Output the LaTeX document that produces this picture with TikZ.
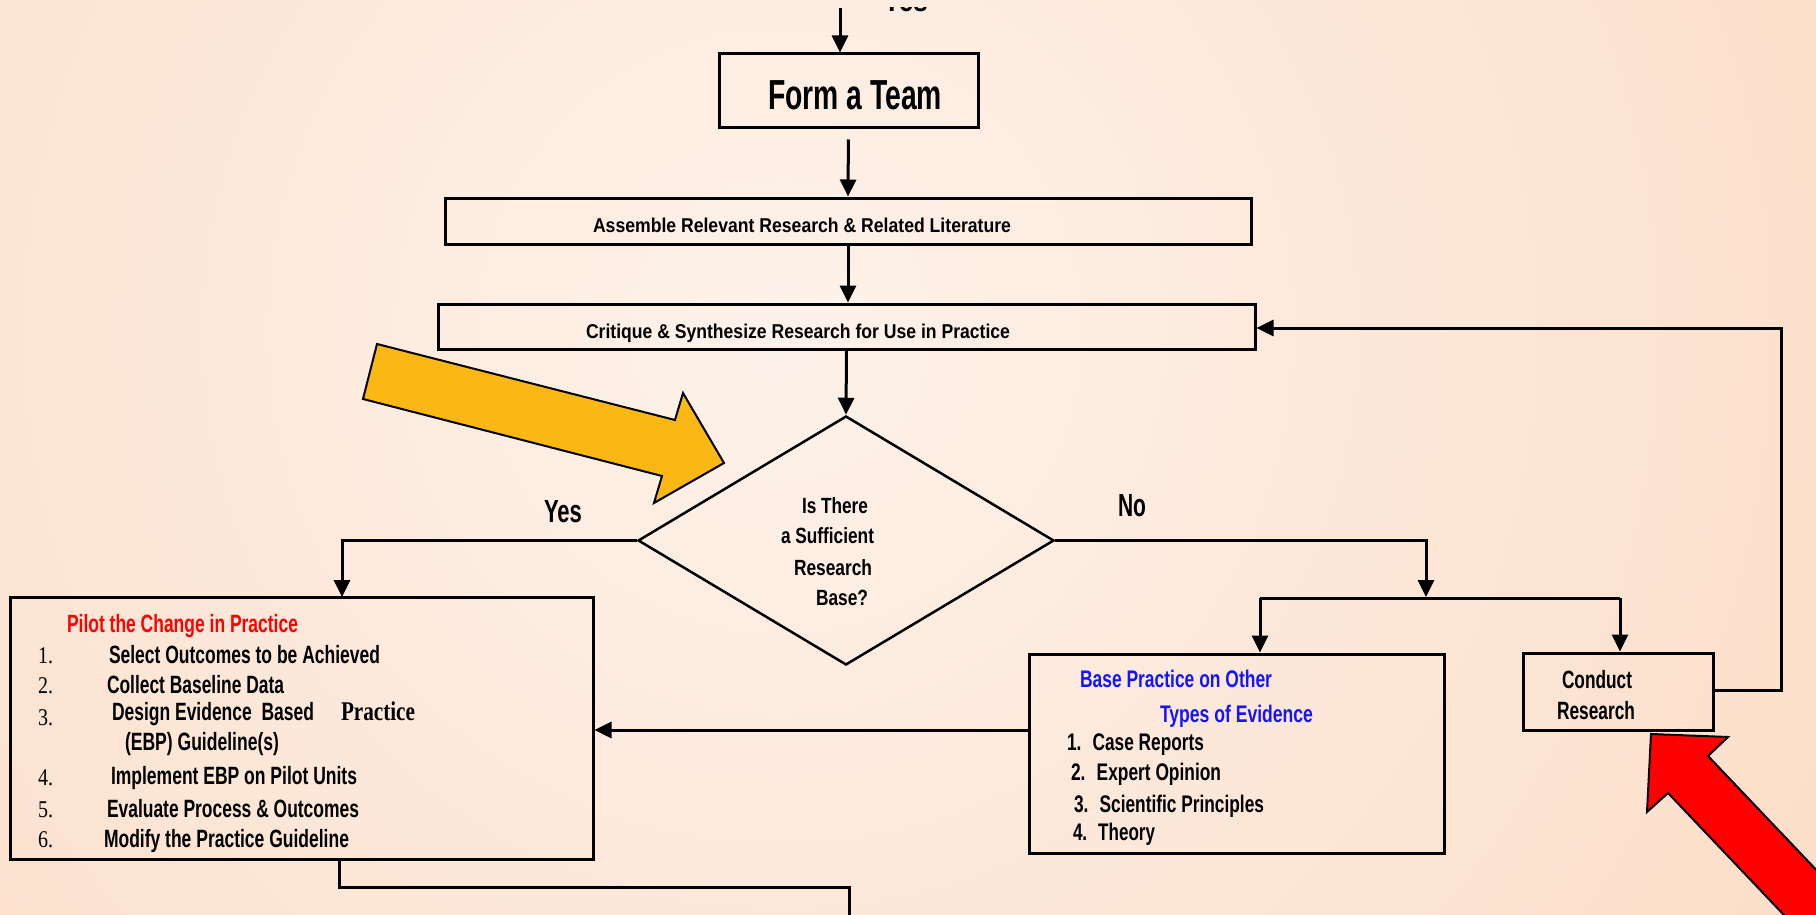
\documentclass[tikz,border=0pt]{standalone}
\usepackage{fontspec}
\usepackage{graphicx}
\setmainfont{Liberation Sans}
\newfontfamily\tmsfont{Liberation Serif}
\usetikzlibrary{arrows.meta,shapes.geometric}
\definecolor{bgin}{RGB}{253,242,234}
\definecolor{bgout}{RGB}{250,204,170}
\definecolor{goldarrow}{RGB}{251,184,20}
\definecolor{pilotred}{RGB}{255,0,0}
\definecolor{evblue}{RGB}{20,20,255}
\newcommand{\fw}[2]{\resizebox{#1pt}{\height}{#2}}
\newcommand{\fs}[1]{\fontsize{#1}{#1}\selectfont}
\tikzset{
  boxnode/.style={draw=black, line width=3pt, inner sep=0pt},
  conn/.style={line width=3pt},
  arr/.style={conn, -{Triangle[width=16pt,length=17pt]}},
  txt/.style={inner sep=0pt, outer sep=0pt, anchor=base west, font=\bfseries},
  num/.style={inner sep=0pt, outer sep=0pt, anchor=base west, font=\tmsfont\fs{24}},
}
\begin{document}
\begin{tikzpicture}[x=1pt,y=-1pt]
\useasboundingbox (0,0) rectangle (1816,915);
\clip (0,0) rectangle (1816,915);
% background
\shade[inner color=bgin, outer color=bgout] (780,330) circle (2300);

% label cut by the top edge of the original picture
\begin{scope}
\clip (0,8) rectangle (1816,30);
\node[txt, font=\bfseries\fs{32}] (t-topyes) at (883,12) {\fw{45}{Yes}};
\end{scope}

% boxes
\node[boxnode, minimum width=259pt, minimum height=74pt] (form) at (848.5,91) {};
\node[boxnode, minimum width=806pt, minimum height=46pt] (assemble) at (848,221) {};
\node[boxnode, minimum width=817pt, minimum height=45pt] (critique) at (846.5,326.5) {};
\node[draw=black, line width=2.5pt, shape=diamond, minimum width=416pt, minimum height=249pt, inner sep=0pt] (dia) at (846,540.5) {};
\node[boxnode, minimum width=583pt, minimum height=262pt] (pilot) at (301.5,728) {};
\node[boxnode, minimum width=415pt, minimum height=199pt] (base) at (1236.5,753.5) {};
\node[boxnode, minimum width=190pt, minimum height=77pt] (conduct) at (1618,691.5) {};

% texts
\node[txt, font=\bfseries\fs{42}] (t-form) at (768,110) {\fw{174}{Form a Team}};
\node[txt, font=\bfseries\fs{20}] (t-assemble) at (593,233) {\fw{418}{Assemble Relevant Research \& Related Literature}};
\node[txt, font=\bfseries\fs{20}] (t-critique) at (586,338) {\fw{424}{Critique \& Synthesize Research for Use in Practice}};

\node[txt, font=\bfseries\fs{22}] (t-d1) at (802,513) {\fw{66}{Is There}};
\node[txt, font=\bfseries\fs{22}] (t-d2) at (781,543) {\fw{93}{a Sufficient}};
\node[txt, font=\bfseries\fs{22}] (t-d3) at (794,575) {\fw{78}{Research}};
\node[txt, font=\bfseries\fs{22}] (t-d4) at (816,605) {\fw{52}{Base?}};

\node[txt, font=\bfseries\fs{32}] (t-yes) at (544,522) {\fw{38}{Yes}};
\node[txt, font=\bfseries\fs{32}] (t-no) at (1118,516) {\fw{28}{No}};

% pilot box text
\node[txt, font=\bfseries\fs{25}, text=pilotred] (t-ptitle) at (67,632) {\fw{231}{Pilot the Change in Practice}};
\node[num] (n1) at (38,663) {\fw{15}{1.}};
\node[num] (n2) at (38,693) {\fw{15}{2.}};
\node[num] (n3) at (38,725) {\fw{15}{3.}};
\node[num] (n4) at (38,785) {\fw{15}{4.}};
\node[num] (n5) at (38,817) {\fw{15}{5.}};
\node[num] (n6) at (38,847) {\fw{15}{6.}};
\node[txt, font=\bfseries\fs{25}] (p1) at (109,663) {\fw{271}{Select Outcomes to be Achieved}};
\node[txt, font=\bfseries\fs{25}] (p2) at (107,693) {\fw{177}{Collect Baseline Data}};
\node[txt, font=\bfseries\fs{25}] (p3) at (112,720) {\fw{202}{Design Evidence~ Based}};
\node[txt, font=\tmsfont\bfseries\fs{27}] (p3b) at (341,720) {\fw{74}{Practice}};
\node[txt, font=\bfseries\fs{25}] (p3c) at (125,750) {\fw{154}{(EBP) Guideline(s)}};
\node[txt, font=\bfseries\fs{25}] (p4) at (111,784) {\fw{246}{Implement EBP on Pilot Units}};
\node[txt, font=\bfseries\fs{25}] (p5) at (107,817) {\fw{252}{Evaluate Process \& Outcomes}};
\node[txt, font=\bfseries\fs{25}] (p6) at (104,847) {\fw{245}{Modify the Practice Guideline}};

% base box text
\node[txt, font=\bfseries\fs{24}, text=evblue] (b0) at (1080,687) {\fw{192}{Base Practice on Other}};
\node[txt, font=\bfseries\fs{24}, text=evblue] (b0b) at (1160,722) {\fw{153}{Types of Evidence}};
\node[txt, font=\bfseries\fs{24}] (b1) at (1067,750) {\fw{137}{1.~ Case Reports}};
\node[txt, font=\bfseries\fs{24}] (b2) at (1071,780) {\fw{150}{2.~ Expert Opinion}};
\node[txt, font=\bfseries\fs{24}] (b3) at (1074,812) {\fw{190}{3.~ Scientific Principles}};
\node[txt, font=\bfseries\fs{24}] (b4) at (1073,840) {\fw{82}{4.~ Theory}};

% conduct text
\node[txt, font=\bfseries\fs{25}] (c1) at (1562,688) {\fw{70}{Conduct}};
\node[txt, font=\bfseries\fs{25}] (c2) at (1557,719) {\fw{78}{Research}};

% connectors
\coordinate (topin) at (840,8);
\draw[arr] (topin) -- (topin |- form.north);
\draw[arr, shorten <=10pt] (form.south) -- (assemble.north);
\draw[arr] (assemble.south) -- (assemble.south |- critique.north);
\draw[arr] (critique.south) -- (dia.north);

\coordinate (yesdrop) at (342,597);
\draw[arr] (dia.west) -| (yesdrop);

\coordinate (nodrop) at (1426,597);
\draw[arr] (dia.east) -| (nodrop);

\coordinate (split1) at (1260,598);
\coordinate (split2) at (1620,598);
\draw[conn] (split1) -- (split2);
\draw[arr] (split1) -- (split1 |- base.north);
\draw[arr] (split2) -- (split2 |- conduct.north);

\coordinate (bp) at (1029,730);
\draw[arr] (bp) -- (bp -| pilot.east);

\coordinate (fb1) at (1781,690);
\coordinate (fb2) at (1781,328);
\draw[arr] (fb1 -| conduct.east) -- (fb1) -- (fb2) -- (fb2 -| critique.east);

\coordinate (bt1) at (339,887);
\coordinate (bt2) at (849,887);
\coordinate (btend) at (849,925);
\draw[conn] (bt1 |- pilot.south) -- (bt1) -- (bt2) -- (btend);

% big arrows
\draw[fill=goldarrow, draw=black, line width=2pt, line join=miter]
  (377,344) -- (675,420) -- (683,393) -- (724,463) -- (654,503) -- (662,476) -- (363,399) -- cycle;
\draw[fill=red, draw=black, line width=2pt, line join=miter]
  (1651,734) -- (1728,737) -- (1708,756) -- (1900,958) -- (1860,995) -- (1668,793) -- (1647,812) -- cycle;
\end{tikzpicture}
\end{document}
